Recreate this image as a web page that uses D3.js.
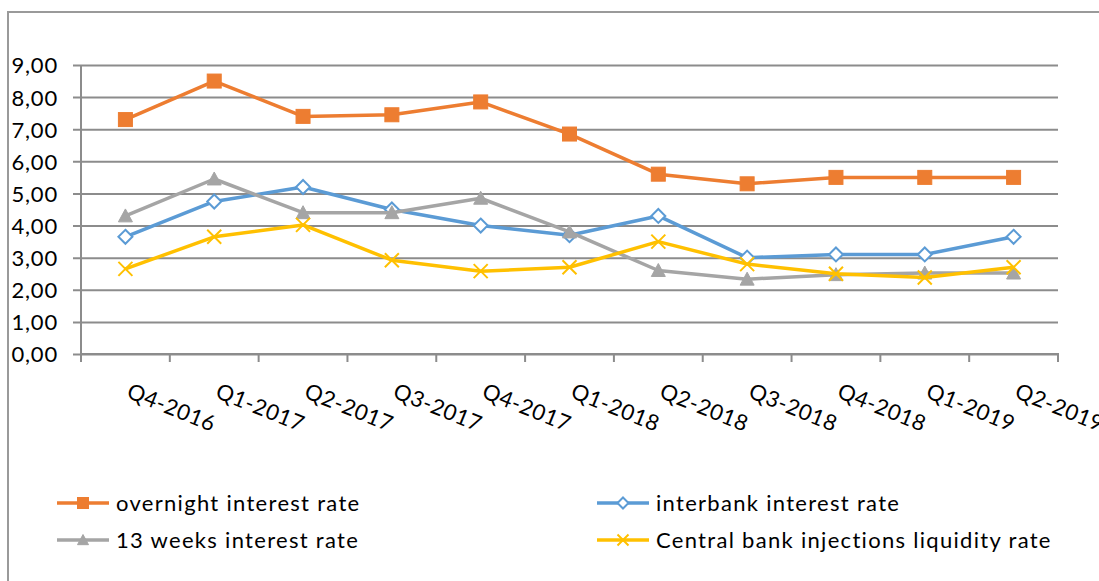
<!DOCTYPE html>
<html>
<head>
<meta charset="utf-8">
<script src="https://cdn.jsdelivr.net/npm/d3@7"></script>
<style>
  html, body { margin: 0; padding: 0; background: #ffffff; }
  svg { display: block; }
  text { font-family: Lato, "Open Sans", sans-serif; fill: #000; }
</style>
</head>
<body>
<svg id="chart" width="1099" height="581"></svg>
<script>
// Quarterly interest rates, Q4-2016 .. Q2-2019
const quarters = ["Q4-2016", "Q1-2017", "Q2-2017", "Q3-2017", "Q4-2017", "Q1-2018",
                  "Q2-2018", "Q3-2018", "Q4-2018", "Q1-2019", "Q2-2019"];
const overnightRate = [7.30, 8.50, 7.40, 7.45, 7.85, 6.85, 5.60, 5.30, 5.50, 5.50, 5.50];
const interbankRate = [3.65, 4.75, 5.20, 4.50, 4.00, 3.70, 4.30, 3.00, 3.10, 3.10, 3.65];
const weeks13Rate   = [4.30, 5.45, 4.40, 4.40, 4.85, 3.80, 2.60, 2.33, 2.47, 2.52, 2.52];
const liquidityRate = [2.65, 3.65, 4.02, 2.92, 2.58, 2.70, 3.50, 2.80, 2.50, 2.38, 2.70];
const yTicks = [0, 1, 2, 3, 4, 5, 6, 7, 8, 9];

const series = [
  { name: "overnight interest rate", values: overnightRate, color: "#ED7D31", marker: "square" },
  { name: "interbank interest rate", values: interbankRate, color: "#5B9BD5", marker: "diamond" },
  { name: "13 weeks interest rate", values: weeks13Rate, color: "#A5A5A5", marker: "triangle" },
  { name: "Central bank injections liquidity rate", values: liquidityRate, color: "#FFC000", marker: "cross" }
];

const svg = d3.select("#chart");
const gridColor = "#8c8c8c";

// outer chart frame
svg.append("path")
  .attr("d", "M8,590 L8,12 L1110,12")
  .attr("fill", "none")
  .attr("stroke", "#9a9a9a")
  .attr("stroke-width", 2);

const plot = { left: 81, right: 1058, top: 65, bottom: 354 };

const x = d3.scaleBand().domain(quarters).range([plot.left, plot.right]).paddingInner(0).paddingOuter(0);
const y = d3.scaleLinear().domain([0, 9]).range([plot.bottom, plot.top]);

// horizontal gridlines with short left ticks
const yAxis = d3.axisLeft(y)
  .tickValues(yTicks)
  .tickSize(-(plot.right - plot.left))
  .tickSizeOuter(0)
  .tickFormat(d => d3.format(".2f")(d).replace(".", ","));

const gy = svg.append("g").attr("transform", `translate(${plot.left},0)`).call(yAxis);
gy.select(".domain").remove();
gy.selectAll(".tick line")
  .attr("x1", -8)
  .attr("stroke", gridColor)
  .attr("stroke-width", 2);
gy.selectAll(".tick text")
  .attr("x", -23)
  .attr("dy", "0.36em")
  .style("font-size", "22px")
  .style("letter-spacing", "0.8px")
  .style("font-family", "Lato, 'Open Sans', sans-serif")
  .attr("fill", "#000");

// vertical axis line
svg.append("line")
  .attr("x1", plot.left).attr("x2", plot.left)
  .attr("y1", plot.top).attr("y2", plot.bottom + 8)
  .attr("stroke", gridColor).attr("stroke-width", 2);

// category axis: ticks at band boundaries
const xAxisLine = d3.axisBottom(x).tickSize(0).tickFormat("");
const gx = svg.append("g").attr("transform", `translate(0,${plot.bottom})`).call(xAxisLine);
gx.select(".domain").attr("stroke", gridColor).attr("stroke-width", 2)
  .attr("d", `M${plot.left},0H${plot.right}V8`);
gx.selectAll(".tick").remove();

const boundaries = quarters.map(q => x(q)).concat([plot.right]);
svg.append("g").selectAll("line").data(boundaries.slice(1)).join("line")
  .attr("x1", d => d).attr("x2", d => d)
  .attr("y1", plot.bottom).attr("y2", plot.bottom + 8)
  .attr("stroke", gridColor).attr("stroke-width", 2);

// rotated category labels
svg.append("g").selectAll("text").data(quarters).join("text")
  .attr("transform", d => `translate(${x(d) + x.bandwidth() / 2},397) rotate(22)`)
  .attr("text-anchor", "start")
  .style("font-size", "22px")
  .style("letter-spacing", "0.5px")
  .text(d => d);

// marker drawing
function drawMarker(g, type, color, size) {
  const s = size;
  if (type === "square") {
    g.append("rect")
      .attr("x", -s / 2).attr("y", -s / 2).attr("width", s).attr("height", s)
      .attr("fill", color).attr("stroke", color).attr("stroke-width", 1);
  } else if (type === "diamond") {
    const h = s / 2;
    g.append("path")
      .attr("d", `M0,${-h}L${h},0L0,${h}L${-h},0Z`)
      .attr("fill", "#fff").attr("stroke", color).attr("stroke-width", 2);
  } else if (type === "triangle") {
    const h = s / 2;
    g.append("path")
      .attr("d", `M0,${-h}L${h},${h * 0.85}L${-h},${h * 0.85}Z`)
      .attr("fill", color).attr("stroke", color).attr("stroke-width", 1);
  } else if (type === "cross") {
    const h = s / 2;
    g.append("path")
      .attr("d", `M${-h},${-h}L${h},${h}M${h},${-h}L${-h},${h}`)
      .attr("fill", "none").attr("stroke", color).attr("stroke-width", 2);
  }
}

const line = d3.line()
  .x((d, i) => x(quarters[i]) + x.bandwidth() / 2)
  .y(d => y(d));

series.forEach(s => {
  const g = svg.append("g");
  g.append("path")
    .datum(s.values)
    .attr("d", line)
    .attr("fill", "none")
    .attr("stroke", s.color)
    .attr("stroke-width", 3.5)
    .attr("stroke-linejoin", "round");
  s.values.forEach((v, i) => {
    const mg = g.append("g")
      .attr("transform", `translate(${x(quarters[i]) + x.bandwidth() / 2},${y(v)})`);
    drawMarker(mg, s.marker, s.color, 14);
  });
});

// legend, two columns by two rows
const legendPos = [
  { x: 57, y: 503 }, { x: 597, y: 503 },
  { x: 57, y: 540 }, { x: 597, y: 540 }
];
series.forEach((s, i) => {
  const p = legendPos[i];
  const g = svg.append("g").attr("transform", `translate(${p.x},${p.y})`);
  g.append("line").attr("x1", 0).attr("x2", 52).attr("y1", 0).attr("y2", 0)
    .attr("stroke", s.color).attr("stroke-width", 3.5);
  const mg = g.append("g").attr("transform", "translate(26,0)");
  drawMarker(mg, s.marker, s.color, 11);
  g.append("text")
    .attr("x", 59).attr("y", 0).attr("dy", "0.36em")
    .style("font-size", "22px")
    .style("letter-spacing", "1.3px")
    .text(s.name);
});
</script>
</body>
</html>
